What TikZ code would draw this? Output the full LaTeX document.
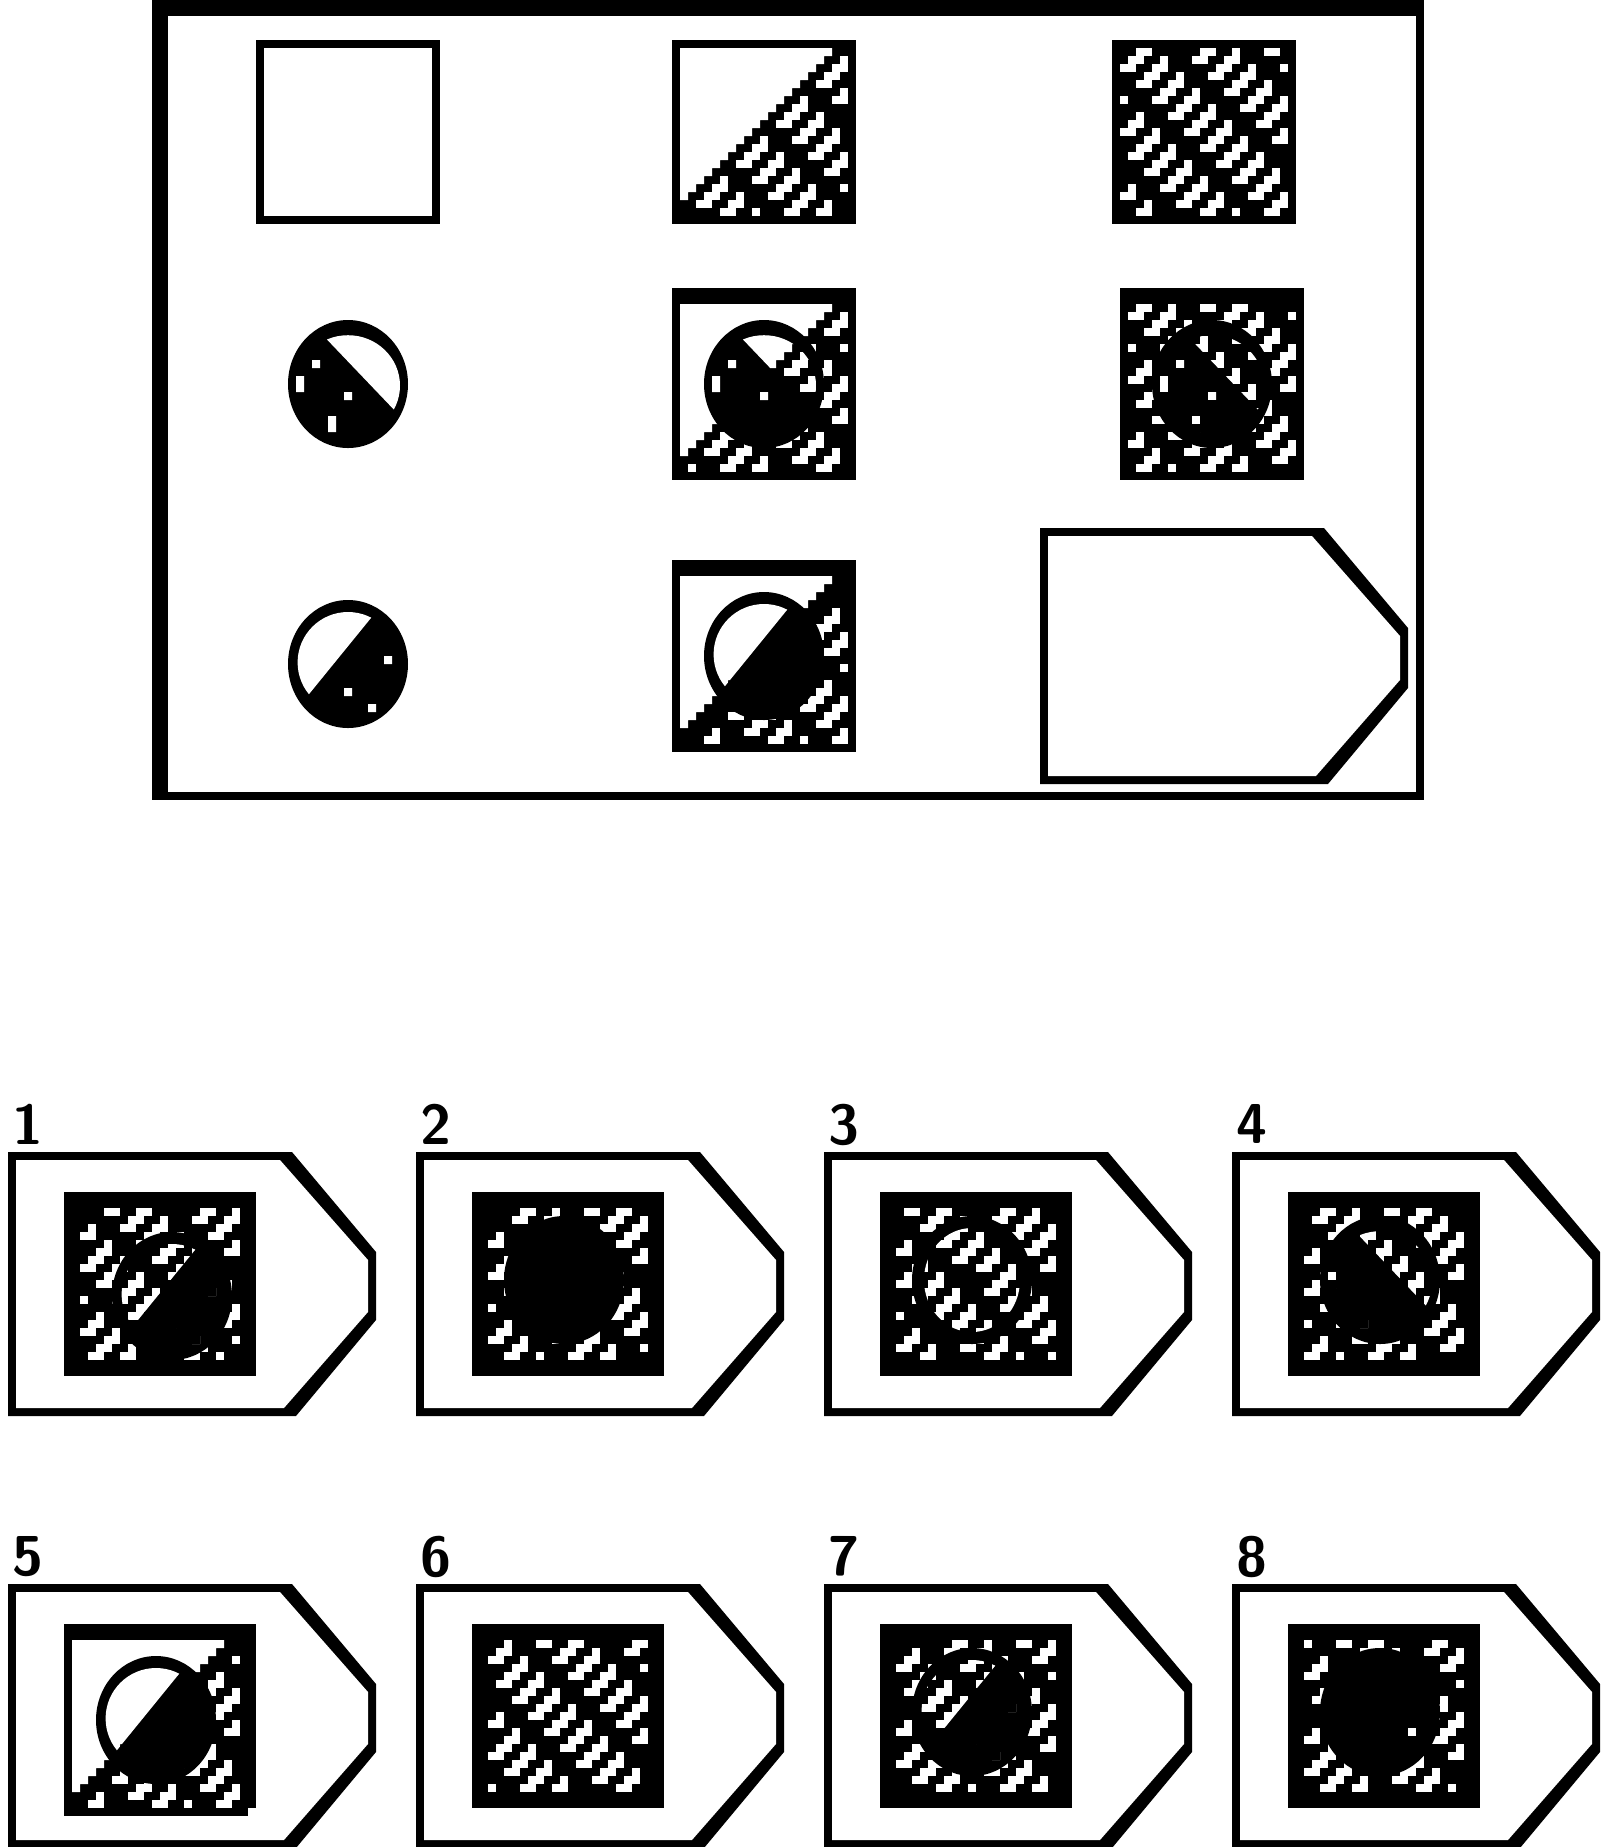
\documentclass[tikz,border=0pt]{standalone}
\usetikzlibrary{calc}

\tikzset{
  ink/.style={fill=black},
  paper/.style={fill=white},
  digit/.style={inner sep=0pt, anchor=north west, font=\fontsize{20}{20}\selectfont\sffamily\bfseries},
}

% white "/" dashes on the cells #1..#3 x #2..#4, only where x+y >= #5
\newcommand{\texture}[5]{%
  \pgfmathtruncatemacro\tXa{#1}\pgfmathtruncatemacro\tXb{#3}%
  \pgfmathtruncatemacro\tYa{#2}\pgfmathtruncatemacro\tYb{#4}%
  \pgfmathtruncatemacro\tLo{#5}%
  \foreach \yy in {\tYa,...,\tYb}{%
    \pgfmathtruncatemacro\sx{\tXa+mod(1000-\tXa-\yy,4)}%
    \pgfmathtruncatemacro\sxb{\sx+4}%
    \foreach \xx in {\sx,\sxb,...,\tXb}{%
      \pgfmathtruncatemacro\ph{mod(\xx-\yy+1000,10)}%
      \pgfmathtruncatemacro\keep{and(\ph!=0,\xx+\yy>=\tLo)}%
      \ifnum\keep=1 \fill[paper] (\xx,\yy) rectangle ++(1,1);\fi
      \pgfmathtruncatemacro\keepb{and(and(\ph>1,\ph<7),and(\xx<\tXb,\xx+\yy>=\tLo))}%
      \ifnum\keepb=1 \fill[paper] (\xx+1,\yy) rectangle ++(1,1);\fi
    }%
  }%
}
% half white, half dashes
\newcommand{\baseB}[2]{%
  \fill[ink] (#1,#2) rectangle ++(23,23);
  \fill[paper] (#1+1,#2+1) \foreach \k in {1,...,19}{ -- (#1+21-\k,#2+\k) -- (#1+21-\k,#2+\k+1)} -- (#1+1,#2+20) -- cycle;
  \texture{#1+1}{#2+1}{#1+21}{#2+21}{#1+#2+23}%
}
% all dashes
\newcommand{\baseC}[2]{%
  \fill[ink] (#1,#2) rectangle ++(23,23);
  \texture{#1+1}{#2+1}{#1+21}{#2+21}{0}%
}
\newcommand{\optbox}[2]{%
  \fill[ink] (#1,#2) rectangle ++(24,23);
  \texture{#1+2}{#2+2}{#1+21}{#2+20}{0}%
}
% ball, light band to the upper right; #3 is what shows through
\newcommand{\overD}[3]{%
  \fill[ink] (#1+7.5,#2+8) ellipse [x radius=7.5, y radius=8];
  \begin{scope}
    \clip (#1+7.5,#2+8.2) ellipse [x radius=6.5, y radius=6.3];
    \clip (#1+3.5,#2) -- (#1+3.5,#2+1) -- (#1+14,#2+12) -- (#1+16,#2+12) -- (#1+16,#2) -- cycle;
    #3
  \end{scope}
  \begin{scope}
    \clip (#1+3,#2+5) rectangle ++(1,1) (#1+1,#2+7) rectangle ++(1,2)
      (#1+7,#2+9) rectangle ++(1,1) (#1+5,#2+12) rectangle ++(1,2);
    #3
  \end{scope}
}
% ball, light band to the upper left
\newcommand{\overG}[3]{%
  \fill[ink] (#1+7.5,#2+8) ellipse [x radius=7.5, y radius=8];
  \begin{scope}
    \clip (#1+7.5,#2+7.8) ellipse [x radius=6.3, y radius=6.3];
    \clip (#1+12.2,#2) -- (#1+0.4,#2+14.5) -- (#1-1,#2+14.5) -- (#1-1,#2) -- cycle;
    #3
  \end{scope}
  \begin{scope}
    \clip (#1+7,#2+11) rectangle ++(1,1) (#1+12,#2+7) rectangle ++(1,1)
      (#1+10,#2+13) rectangle ++(1,1);
    #3
  \end{scope}
}
% ring, dashes inside
\newcommand{\overR}[3]{%
  \fill[ink] (#1+7.5,#2+8) ellipse [x radius=7.5, y radius=8];
  \begin{scope}
    \clip (#1+7.5,#2+8) ellipse [x radius=6, y radius=6.5];
    #3
  \end{scope}
  \fill[ink] (#1+7,#2+7) rectangle ++(2,2);
}
% plain ball
\newcommand{\overP}[2]{%
  \fill[ink] (#1+7.5,#2+8) ellipse [x radius=7.5, y radius=8];
}
% answer frame
\newcommand{\tagshape}[3]{%
  \fill[ink] (#1,#2) -- (#1+35.5,#2) -- (#1+46,#2+12.5) -- (#1+46,#2+#3-12) -- (#1+36,#2+#3) -- (#1,#2+#3) -- cycle;
  \fill[paper] (#1+1,#2+1) -- (#1+34,#2+1) -- (#1+45,#2+13.5) -- (#1+45,#2+#3-13) -- (#1+34.5,#2+#3-1) -- (#1+1,#2+#3-1) -- cycle;
}

\begin{document}
\begin{tikzpicture}[x=1mm,y=-1mm]
\useasboundingbox (0,0) rectangle (201.75,230.875);

% the matrix
\fill[ink] (19,0) rectangle (178,100);
\fill[paper] (21,2) rectangle (177,99);

\fill[ink] (32,5) rectangle ++(23,23);
\fill[paper] (33,6) rectangle ++(21,21);
\baseB{84}{5}
\baseC{139}{5}

\overD{36}{40}{\fill[paper] (30,35) rectangle (60,60);}
\fill[ink] (84,36) rectangle ++(23,1);
\baseB{84}{37}
\overD{88}{40}{\baseB{84}{37}}
\fill[ink] (140,36) rectangle ++(23,1);
\baseC{140}{37}
\overD{144}{40}{\baseC{140}{37}}

\overG{36}{75}{\fill[paper] (30,70) rectangle (60,95);}
\fill[ink] (84,70) rectangle ++(23,1);
\baseB{84}{71}
\overG{88}{74}{\baseB{84}{71}}
\tagshape{130}{66}{32}

% the answers
\foreach \i/\x/\y in {1/1/144, 2/52/144, 3/103/144, 4/154/144,
                      5/1/198, 6/52/198, 7/103/198, 8/154/198}{
  \tagshape{\x}{\y}{33}
  \node[digit] (n\i) at (\x+0.5,\y-6) {\i};
}

\optbox{8}{149}
\overG{14}{154}{\optbox{8}{149}}
\optbox{59}{149}
\overP{63}{152}
\optbox{110}{149}
\overR{114}{152}{\optbox{110}{149}}
\optbox{161}{149}
\overD{165}{152}{\optbox{161}{149}}

\fill[ink] (8,203) rectangle ++(24,23);
\baseB{8}{204}
\overG{12}{207}{\baseB{8}{204}}
\optbox{59}{203}
\optbox{110}{203}
\overG{114}{206}{\optbox{110}{203}}
\optbox{161}{203}
\overP{165}{206}
\fill[paper] (176,216) rectangle ++(1,1);
\end{tikzpicture}
\end{document}
